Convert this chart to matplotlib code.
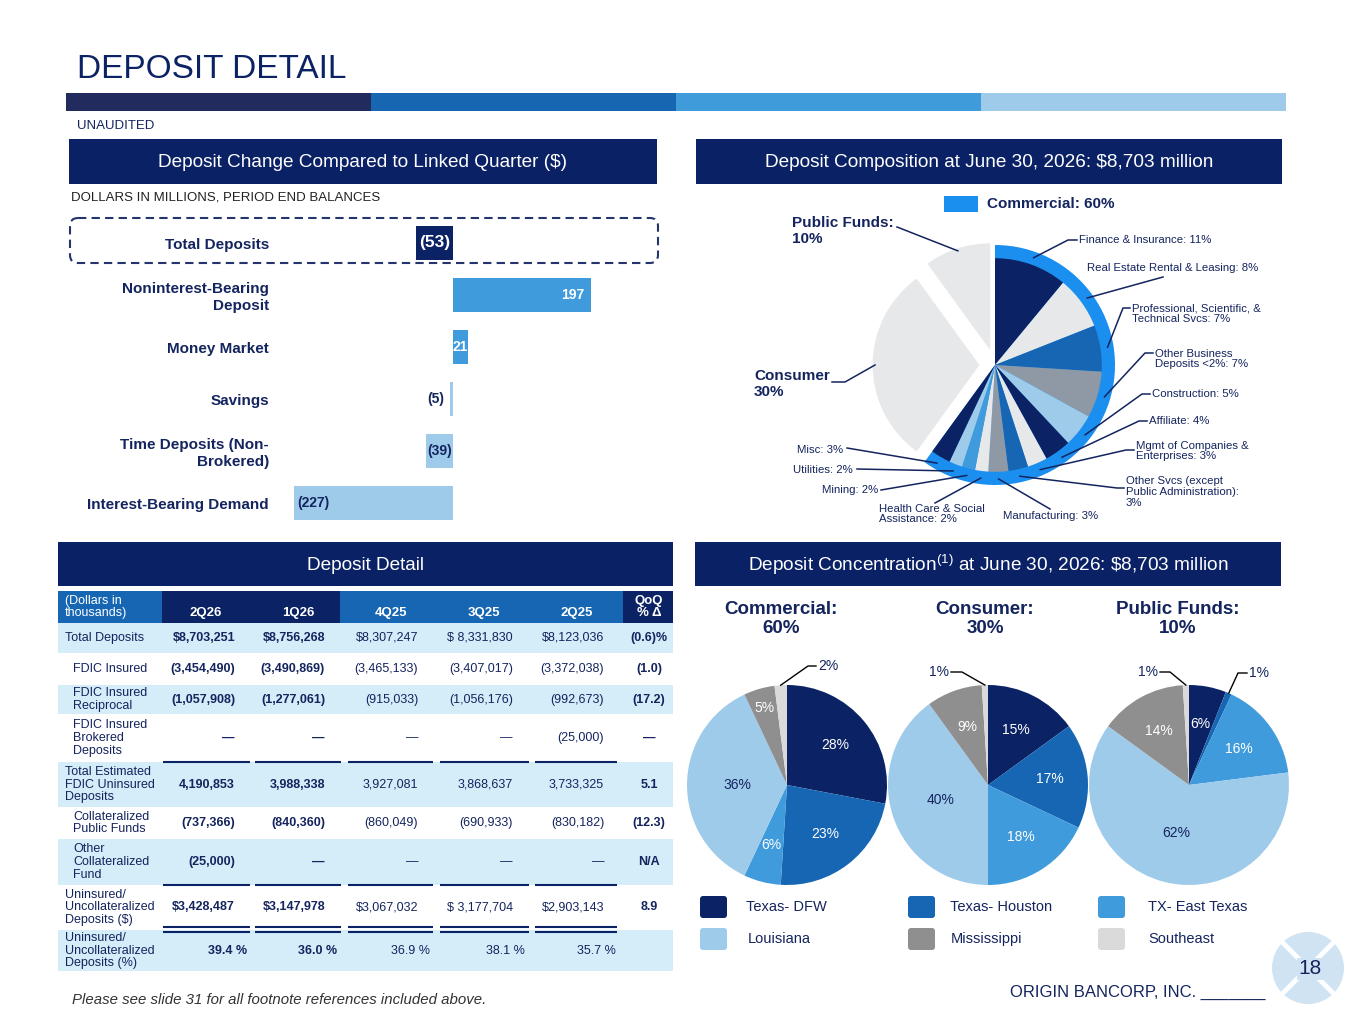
import numpy as np
import matplotlib
matplotlib.use("Agg")
import matplotlib.pyplot as plt
from matplotlib.patches import Rectangle, FancyBboxPatch, Circle

plt.rcParams['font.family'] = ['Liberation Sans', 'DejaVu Sans']
plt.rcParams['mathtext.fontset'] = 'custom'
plt.rcParams['mathtext.rm'] = 'Liberation Sans'

W, H = 1365, 1024

# colours
NAVY = "#0B2265"
TXT = "#14245E"
MID = "#1766B4"
SKY = "#3F9BDB"
LIGHT = "#9FCBEB"
SLATE = "#8E99A5"
GREY = "#8F8F8F"
PALE = "#E7E8EA"
SILVER = "#DADADA"
RING = "#1A8FEF"
ROWFILL = "#D4EDF9"

# ---- deposit change vs linked quarter ($ millions) ----
chg_cats = ["Total Deposits", "Noninterest-Bearing\nDeposit", "Money Market", "Savings",
            "Time Deposits (Non-\nBrokered)", "Interest-Bearing Demand"]
chg_vals = [-53, 197, 21, -5, -39, -227]

# ---- deposit composition (%) ----
seg_names = ["Finance & Insurance", "Real Estate Rental & Leasing",
             "Professional, Scientific, &\nTechnical Svcs", "Other Business\nDeposits <2%",
             "Construction", "Affiliate", "Mgmt of Companies &\nEnterprises",
             "Other Svcs (except\nPublic Administration)", "Manufacturing",
             "Health Care & Social\nAssistance", "Mining", "Utilities", "Misc"]
seg_vals = [11, 8, 7, 7, 5, 4, 3, 3, 3, 2, 2, 2, 3]
seg_colors = [NAVY, PALE, MID, SLATE, LIGHT, NAVY, PALE, MID, SLATE, PALE, SKY, LIGHT, NAVY]
consumer_pct = 30
public_pct = 10

# ---- concentration by region (%) ----
regions = ["Texas- DFW", "Texas- Houston", "TX- East Texas", "Louisiana", "Mississippi", "Southeast"]
region_colors = [NAVY, MID, SKY, LIGHT, GREY, SILVER]
comm_mix = [28, 23, 6, 36, 5, 2]
cons_mix = [15, 17, 18, 40, 9, 1]
pub_mix = [6, 1, 16, 62, 14, 1]

# ---- deposit detail table ($ thousands) ----
tbl_cols = ["2Q26", "1Q26", "4Q25", "3Q25", "2Q25"]
tbl_rows = ["Total Deposits", "FDIC Insured", "FDIC Insured\nReciprocal", "FDIC Insured\nBrokered\nDeposits",
            "Total Estimated\nFDIC Uninsured\nDeposits", "Collateralized\nPublic Funds",
            "Other\nCollateralized\nFund", "Uninsured/\nUncollateralized\nDeposits ($)",
            "Uninsured/\nUncollateralized\nDeposits (%)"]
col_2q26 = ["$8,703,251", "(3,454,490)", "(1,057,908)", "—", "4,190,853", "(737,366)", "(25,000)", "$3,428,487", "39.4 %"]
col_1q26 = ["$8,756,268", "(3,490,869)", "(1,277,061)", "—", "3,988,338", "(840,360)", "—", "$3,147,978", "36.0 %"]
col_4q25 = ["$8,307,247", "(3,465,133)", "(915,033)", "—", "3,927,081", "(860,049)", "—", "$3,067,032", "36.9 %"]
col_3q25 = ["$ 8,331,830", "(3,407,017)", "(1,056,176)", "—", "3,868,637", "(690,933)", "—", "$ 3,177,704", "38.1 %"]
col_2q25 = ["$8,123,036", "(3,372,038)", "(992,673)", "(25,000)", "3,733,325", "(830,182)", "—", "$2,903,143", "35.7 %"]
col_qoq = ["(0.6)%", "(1.0)", "(17.2)", "—", "5.1", "(12.3)", "N/A", "8.9", ""]


fig = plt.figure(figsize=(W / 100, H / 100), dpi=100)
fig.patch.set_facecolor("white")


def px_axes(x0, y0, w, h):
    return fig.add_axes([x0 / W, 1 - (y0 + h) / H, w / W, h / H])


# ---------------- bar chart ----------------
axb = px_axes(285, 217, 365, 312)
bar_colors = [NAVY] + [SKY if v > 0 else LIGHT for v in chg_vals[1:]]
ypos = np.arange(len(chg_vals))
axb.barh(ypos, chg_vals, height=0.65, color=bar_colors)
axb.set_xlim(-240, 281)
axb.set_ylim(len(chg_vals) - 0.5, -0.5)
axb.set_yticks(ypos)
axb.set_yticklabels(chg_cats, fontsize=11, fontweight="bold", color=TXT)
axb.tick_params(axis="y", length=0, pad=11.5)
axb.set_xticks([])
for s in axb.spines.values():
    s.set_visible(False)
axb.patch.set_alpha(0)
for i, v in enumerate(chg_vals):
    lab = f"({abs(v)})" if v < 0 else str(v)
    col = "white" if bar_colors[i] in (NAVY, SKY) else TXT
    fs = 12.5 if i == 0 else 10
    if abs(v) > 100:
        x, ha = (v - 10, "right") if v > 0 else (v + 4, "left")
    elif abs(v) < 10:
        x, ha = v - 8, "right"
    else:
        x, ha = v / 2, "center"
    axb.text(x, i, lab, ha=ha, va="center", fontsize=fs, fontweight="bold", color=col)

# ---------------- composition pie ----------------
PCX, PCY, PR = 995, 365, 120
axp = px_axes(PCX - 150, PCY - 150, 300, 300)
comm_total = sum(seg_vals)
axp.pie([comm_total, consumer_pct + public_pct], colors=[RING, (0, 0, 0, 0)], radius=1.0,
        startangle=90, counterclock=False, wedgeprops=dict(linewidth=0))
all_vals = seg_vals + [consumer_pct, public_pct]
axp.pie(all_vals, colors=seg_colors + [PALE, PALE], radius=0.89, startangle=90,
        counterclock=False, explode=[0] * len(seg_vals) + [0.13, 0.13],
        wedgeprops=dict(linewidth=0))
axp.set_xlim(-1.25, 1.25)
axp.set_ylim(-1.25, 1.25)
axp.axis("off")

# ---------------- concentration pies ----------------
mix_sets = [comm_mix, cons_mix, pub_mix]
pie_cx = [787, 988, 1189]
PY, PR2 = 785, 100
for cx, mix in zip(pie_cx, mix_sets):
    a = px_axes(cx - 125, PY - 125, 250, 250)
    a.pie(mix, colors=region_colors, startangle=90, counterclock=False, radius=1.0,
          wedgeprops=dict(linewidth=0))
    a.set_xlim(-1.25, 1.25)
    a.set_ylim(-1.25, 1.25)
    a.axis("off")
    cum = np.cumsum([0] + mix)
    for k, v in enumerate(mix):
        if v <= 2:
            continue
        ang = np.deg2rad(90 - (cum[k] + v / 2) * 3.6)
        r = 0.5 if v >= 35 else (0.8 if v <= 5 else 0.62)
        col = TXT if region_colors[k] == LIGHT else "white"
        a.text(r * np.cos(ang), r * np.sin(ang), f"{v}%", ha="center", va="center",
               fontsize=10, color=col)

# ---------------- overlay in pixel coordinates ----------------
ov = fig.add_axes([0, 0, 1, 1])
ov.set_xlim(0, W)
ov.set_ylim(H, 0)
ov.axis("off")
ov.patch.set_alpha(0)

# title + colour strip
ov.text(77, 70, "DEPOSIT DETAIL", fontsize=24, color=NAVY, va="center", ha="left")
for k, c in enumerate(["#222B5E", "#1766B2", "#3F9BD9", "#9ECBEA"]):
    ov.add_patch(Rectangle((66 + k * 305, 93), 305, 18, color=c, lw=0))
ov.text(77, 126, "UNAUDITED", fontsize=9.5, color=TXT, va="center")

# banners
banners = [(69, 139, 588, 45, "Deposit Change Compared to Linked Quarter ($)"),
           (696, 139, 586, 45, "Deposit Composition at June 30, 2026: $8,703 million"),
           (58, 542, 615, 44, "Deposit Detail"),
           (695, 542, 586, 44, r"Deposit Concentration$^{(1)}$ at June 30, 2026: \$8,703 million")]
for x0, y0, w, h, t in banners:
    ov.add_patch(Rectangle((x0, y0), w, h, color="#0A2166", lw=0))
    ov.text(x0 + w / 2, y0 + h / 2 + 1, t, fontsize=13.7, color="white", ha="center", va="center")

ov.text(71, 197, "DOLLARS IN MILLIONS, PERIOD END BALANCES", fontsize=9.5, color="#222", va="center")
ov.add_patch(FancyBboxPatch((70, 218), 588, 45, boxstyle="round,pad=0,rounding_size=8",
                            fc="none", ec="#26346E", lw=1.5, ls=(0, (4, 2.5))))

# composition pie labels
ov.add_patch(Rectangle((944, 196), 34, 16, color=RING, lw=0))
ov.text(987, 204, f"Commercial: {comm_total}%", fontsize=11, fontweight="bold", color=TXT, va="center")

seg_lbl = [(1079, 240, "left", " "), (1087, 268, "left", " "), (1132, 314, "left", " "),
           (1155, 359, "left", " "), (1152, 394, "left", " "), (1149, 421, "left", " "),
           (1136, 451, "left", " "), (1126, 492, "left", "\n"), (1003, 516, "left", " "),
           (879, 514, "left", " "), (878, 490, "right", " "), (853, 470, "right", " "),
           (843, 450, "right", " ")]
seg_lead = [[(1077, 240), (1068, 240)], [(1163, 277)], [(1130, 308), (1123, 308)],
            [(1153, 353), (1145, 353)], [(1150, 394), (1142, 394)], [(1147, 421), (1139, 421)],
            [(1134, 450), (1126, 450)], [(1124, 488), (1117, 488)], [(1050, 509)],
            [(935, 503)], [(881, 490)], [(857, 469)], [(847, 448)]]
cum = np.cumsum([0] + all_vals)
for k, (name, v) in enumerate(zip(seg_names, seg_vals)):
    tx, ty, ha, sep = seg_lbl[k]
    ov.text(tx, ty, f"{name}:{sep}{v}%", fontsize=8.2, color=TXT, ha=ha, va="center",
            linespacing=1.1)
    ang = np.deg2rad(90 - (cum[k] + v / 2) * 3.6)
    end = (PCX + PR * 0.95 * np.cos(ang), PCY - PR * 0.95 * np.sin(ang))
    pts = seg_lead[k] + [end]
    ov.plot([p[0] for p in pts], [p[1] for p in pts], color=TXT, lw=1.1)

other_lbl = [(f"Consumer\n{consumer_pct}%", 754, 384, [(832, 382), (845, 382)]),
             (f"Public Funds:\n{public_pct}%", 792, 231, [(897, 227)])]
for j, (t, tx, ty, lead) in enumerate(other_lbl):
    k = len(seg_vals) + j
    ov.text(tx, ty, t, fontsize=11, fontweight="bold", color=TXT, ha="left", va="center")
    ang = np.deg2rad(90 - (cum[k] + all_vals[k] / 2) * 3.6)
    end = (PCX + PR * 1.0 * np.cos(ang), PCY - PR * 1.0 * np.sin(ang))
    pts = lead + [end]
    ov.plot([p[0] for p in pts], [p[1] for p in pts], color=TXT, lw=1.1)

# concentration titles
pie_titles = [f"Commercial:\n{comm_total}%", f"Consumer:\n{consumer_pct}%", f"Public Funds:\n{public_pct}%"]
for tx, t in zip([781, 985, 1178], pie_titles):
    ov.text(tx, 619, t, fontsize=13.5, fontweight="bold", color=TXT, ha="center", va="center",
            linespacing=1.15)

# small outside labels on concentration pies
small_lbl = {(0, 5): (818, 666, "left", [(816, 666), (808, 666)]),
             (1, 5): (949, 672, "right", [(951, 672), (962, 672)]),
             (2, 5): (1158, 672, "right", [(1160, 672), (1170, 672)]),
             (2, 1): (1249, 673, "left", [(1247, 673), (1238, 673)])}
for (p, k), (tx, ty, ha, lead) in small_lbl.items():
    mix = mix_sets[p]
    c = np.cumsum([0] + mix)
    ang = np.deg2rad(90 - (c[k] + mix[k] / 2) * 3.6)
    end = (pie_cx[p] + PR2 * np.cos(ang), PY - PR2 * np.sin(ang))
    ov.text(tx, ty, f"{mix[k]}%", fontsize=10, color=TXT, ha=ha, va="center")
    pts = lead + [end]
    ov.plot([q[0] for q in pts], [q[1] for q in pts], color="black", lw=1.0)

# region legend
leg_xy = [(700, 907, 746), (908, 907, 950), (1098, 907, 1148),
          (700, 939, 748), (908, 939, 951), (1098, 939, 1148)]
for (sx, sy, tx), name, c in zip(leg_xy, regions, region_colors):
    ov.add_patch(FancyBboxPatch((sx, sy - 11), 27, 22, boxstyle="round,pad=0,rounding_size=3",
                                fc=c, ec="none"))
    ov.text(tx, sy, name, fontsize=10.5, color=TXT, va="center")

# ---------------- deposit detail table ----------------
row_edges = [623, 653, 685, 714, 762, 807, 839, 885, 930, 971]
for i in range(len(tbl_rows)):
    if i % 2 == 0:
        ov.add_patch(Rectangle((58, row_edges[i]), 615, row_edges[i + 1] - row_edges[i],
                               color=ROWFILL, lw=0))
for x0, x1, c in [(58, 162, MID), (162, 340, NAVY), (340, 623, MID), (623, 673, NAVY)]:
    ov.add_patch(Rectangle((x0, 591), x1 - x0, 32, color=c, lw=0))
ov.text(65, 607, "(Dollars in\nthousands)", fontsize=9, color="white", va="center", linespacing=1.1)
for tx, t in zip([206, 298, 391, 484, 577], tbl_cols):
    ov.text(tx, 613, t, fontsize=9.5, fontweight="bold", color="white", ha="center", va="center")
ov.text(649, 607, "QoQ\n% Δ", fontsize=9.5, fontweight="bold", color="white", ha="center",
        va="center", linespacing=1.05)

indented = {1, 2, 3, 5, 6}
cols = [col_2q26, col_1q26, col_4q25, col_3q25, col_2q25]
col_right = [235, 325, 418, 513, 604]
for i, lab in enumerate(tbl_rows):
    yc = (row_edges[i] + row_edges[i + 1]) / 2
    ov.text(73 if i in indented else 65, yc, lab, fontsize=9, color=TXT, va="center",
            linespacing=1.1)
    for j, col in enumerate(cols):
        xr = col_right[j] + (12 if col[i].endswith("%") else 0)
        ov.text(xr, yc, col[i], fontsize=9, color=TXT, ha="right", va="center",
                fontweight="bold" if j < 2 else "normal")
    ov.text(649, yc, col_qoq[i], fontsize=9, color=TXT, ha="center", va="center", fontweight="bold")

col_spans = [(163, 250), (255, 341), (348, 433), (440, 529), (535, 617)]
for yl in [762, 885, 927, 932]:
    for x0, x1 in col_spans:
        ov.plot([x0, x1], [yl, yl], color=NAVY, lw=1.5, solid_capstyle="butt")

# ---------------- footer ----------------
ov.text(72, 1000, "Please see slide 31 for all footnote references included above.", fontsize=10.8,
        style="italic", color="#333333", va="center")
ov.text(1010, 992, "ORIGIN BANCORP, INC. _______", fontsize=12, color=TXT, va="center")
ov.add_patch(Circle((1308, 968), 36, fc="#CFE3F3", ec="none"))
d = 36 * np.cos(np.pi / 4)
ov.plot([1308 - d, 1308 + d], [968 - d, 968 + d], color="white", lw=3.5)
ov.plot([1308 - d, 1308 + d], [968 + d, 968 - d], color="white", lw=3.5)
ov.text(1310, 969, "18", fontsize=15, color=TXT, ha="center", va="center",
        bbox=dict(fc="#CFE3F3", ec="none", pad=1))

fig.savefig("out.png", dpi=100, facecolor="white")
